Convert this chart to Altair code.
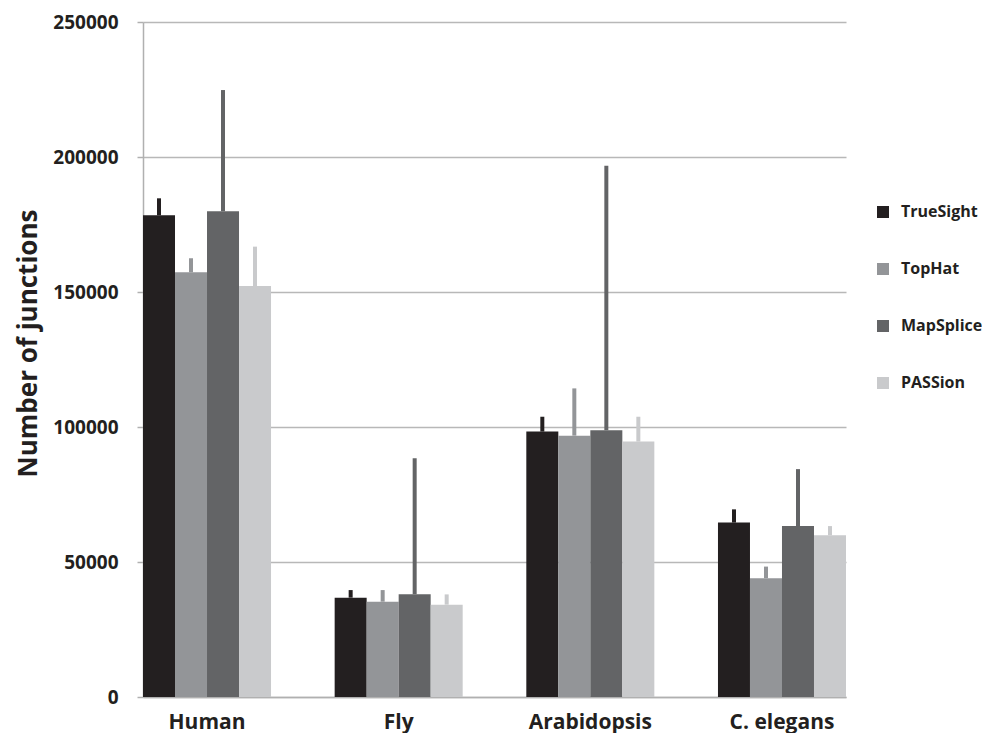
import altair as alt
import pandas as pd

species = ["Human", "Fly", "Arabidopsis", "C. elegans"]
tools = ["TrueSight", "TopHat", "MapSplice", "PASSion"]

truesight = [178400, 36800, 98300, 64600]
tophat = [157300, 35300, 96800, 44000]
mapsplice = [179900, 38100, 98800, 63300]
passion = [152200, 34200, 94600, 59900]

truesight_err = [6300, 2800, 5500, 4900]
tophat_err = [5200, 4300, 17500, 4300]
mapsplice_err = [44900, 50300, 98000, 21100]
passion_err = [14600, 3800, 9200, 3400]

y_ticks = [0, 50000, 100000, 150000, 200000, 250000]
colors = ["#231f20", "#939598", "#636466", "#c9cacc"]

series = {
    "TrueSight": (truesight, truesight_err),
    "TopHat": (tophat, tophat_err),
    "MapSplice": (mapsplice, mapsplice_err),
    "PASSion": (passion, passion_err),
}
rows = []
for t in tools:
    vals, errs = series[t]
    for s, v, e in zip(species, vals, errs):
        rows.append({"species": s, "tool": t, "value": v, "top": v + e})
df = pd.DataFrame(rows)

FONT = "Open Sans"
TXT = "#231f20"

base = alt.Chart(df).encode(
    x=alt.X(
        "species:N",
        sort=species,
        title=None,
        scale=alt.Scale(paddingInner=0.332, paddingOuter=0),
        axis=alt.Axis(
            labelAngle=0,
            labelFont=FONT,
            labelFontWeight="bold",
            labelFontSize=21,
            labelColor=TXT,
            labelBaseline="alphabetic",
            labelPadding=31,
            ticks=False,
            domain=True,
            domainColor="#b0b0b0",
            domainWidth=1.5,
            grid=False,
        ),
    ),
    xOffset=alt.XOffset("tool:N", sort=tools, scale=alt.Scale(paddingInner=0, paddingOuter=0)),
    color=alt.Color(
        "tool:N",
        sort=tools,
        scale=alt.Scale(domain=tools, range=colors),
        legend=alt.Legend(
            title=None,
            orient="none",
            legendX=732,
            legendY=182,
            symbolType="square",
            symbolSize=144,
            symbolStrokeWidth=0,
            labelFont=FONT,
            labelFontWeight="bold",
            labelFontSize=16,
            labelColor=TXT,
            labelOffset=10,
            rowPadding=41,
        ),
    ),
)

y_scale = alt.Scale(domain=[0, 250000], nice=False)

bars = base.mark_bar().encode(
    y=alt.Y(
        "value:Q",
        scale=y_scale,
        title="Number of junctions",
        axis=alt.Axis(
            values=y_ticks,
            format="d",
            labelFont=FONT,
            labelFontWeight="bold",
            labelFontSize=19,
            labelColor=TXT,
            labelPadding=19,
            tickSize=6,
            tickColor="#b0b0b0",
            tickWidth=1.5,
            domainColor="#b0b0b0",
            domainWidth=1.5,
            grid=True,
            gridColor="#b8b8b8",
            gridWidth=1.5,
            titleFont=FONT,
            titleFontWeight="bold",
            titleFontSize=26,
            titleColor=TXT,
            titleAngle=270,
            titleX=-107,
            titleY=321,
            titleAlign="center",
            titleBaseline="alphabetic",
        ),
    )
)

errs = base.mark_rule(strokeWidth=4).encode(
    y=alt.Y("value:Q", scale=y_scale),
    y2="top:Q",
)

chart = (
    alt.layer(bars, errs)
    .properties(
        width=703,
        height=675,
        autosize=alt.AutoSizeParams(type="none"),
        padding={"left": 135, "top": 14, "right": 136, "bottom": 36},
        background="white",
    )
    .configure_view(stroke=None)
)

chart.save("out.html", embed_options={"renderer": "svg", "actions": False})
